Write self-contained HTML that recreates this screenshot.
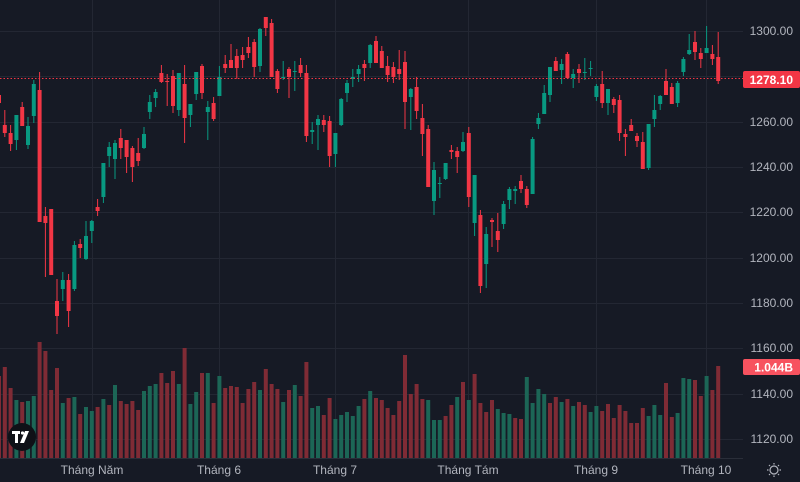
<!DOCTYPE html>
<html><head><meta charset="utf-8">
<style>
html,body{margin:0;padding:0;background:#161a25;}
svg{display:block;}
text{font-family:"Liberation Sans",sans-serif;}
</style></head>
<body>
<svg id="c" width="800" height="482" xmlns="http://www.w3.org/2000/svg">
<rect width="800" height="482" fill="#161a25"/>
<g id="grid" stroke="#232733" stroke-width="1"></g>
<g id="vol"></g>
<g id="cand"></g>
<line x1="0" y1="78.5" x2="743" y2="78.5" stroke="#f23645" stroke-width="1" stroke-dasharray="1.5,2"/>
<g id="ylab" font-size="12" fill="#b2b5be" text-anchor="end"></g>
<rect x="743" y="71" width="57" height="17" rx="2" fill="#f23645"/>
<text x="793" y="84" font-size="12" font-weight="bold" fill="#fff" text-anchor="end">1278.10</text>
<rect x="743" y="359" width="57" height="16" rx="2" fill="#f7525f"/>
<text x="793" y="371.5" font-size="12" font-weight="bold" fill="#fff" text-anchor="end">1.044B</text>
<line x1="0" y1="458.5" x2="743" y2="458.5" stroke="#2a2e39"/>
<g font-size="12" fill="#b2b5be" text-anchor="middle">
<text x="92" y="474">Tháng Năm</text>
<text x="219" y="474">Tháng 6</text>
<text x="335" y="474">Tháng 7</text>
<text x="468" y="474">Tháng Tám</text>
<text x="596" y="474">Tháng 9</text>
<text x="706" y="474">Tháng 10</text>
</g>
<g transform="translate(774,470)" stroke="#b2b5be" fill="none" stroke-width="1.2">
<circle r="4"/>
<path d="M0-7V-5.5M0 5.5V7M-7 0H-5.5M5.5 0H7M-5 -5L-4 -4M4 4L5 5M-5 5L-4 4M4 -4L5 -5"/>
</g>
<circle cx="22" cy="437" r="14" fill="#0f1117"/>
<g fill="#fff"><rect x="12" y="431" width="8" height="3"/><rect x="15" y="431" width="3" height="12"/><circle cx="22.5" cy="433" r="1.6"/><path d="M25 431h4l-5 12h-4z"/></g>
</svg>
<script>
var ns="http://www.w3.org/2000/svg";
function el(p,t,a){var e=document.createElementNS(ns,t);for(var k in a)e.setAttribute(k,a[k]);document.getElementById(p).appendChild(e);return e;}
[31,76,122,167,212,258,303,348,394,439].forEach(function(y){el("grid","line",{x1:0,x2:743,y1:y+.5,y2:y+.5});});
[92,219,335,468,596,706].forEach(function(x){el("grid","line",{x1:x+.5,x2:x+.5,y1:0,y2:458});});
var labs=[[1300,31],[1260,122],[1240,167],[1220,212],[1200,258],[1180,303],[1160,348],[1140,394],[1120,439]];
labs.forEach(function(l){var t=el("ylab","text",{x:793,y:l[1]+4});t.textContent=l[0].toFixed(2);});
var C=[
[95,103,92,106,"r"],[125,133,110,137,"r"],[133,144,125,151,"r"],[115,140,115,150,"g"],[107,126,102,126,"r"],
[126,145,117,149,"g"],[84,116,80,123,"g"],[90,222,72,222,"r"],[216,223,207,277,"r"],[209,275,209,275,"r"],
[301,316,279,334,"r"],[280,289,272,301,"g"],[280,311,274,327,"r"],[245,289,241,291,"g"],[244,248,239,258,"r"],
[236,259,221,260,"g"],[221,231,220,243,"g"],[207,211,199,216,"r"],[163,197,163,203,"g"],[147,156,142,167,"g"],
[143,159,140,179,"g"],[138,148,129,159,"r"],[140,157,140,173,"r"],[148,167,146,182,"r"],[153,161,138,166,"r"],
[134,148,127,149,"g"],[102,112,95,119,"g"],[92,98,89,107,"g"],[73,82,65,83,"r"],[81,82,74,106,"r"],
[76,106,70,113,"r"],[73,110,73,116,"g"],[84,118,65,143,"r"],[104,115,104,127,"g"],[72,94,72,100,"g"],
[66,93,64,99,"r"],[107,112,101,140,"g"],[103,119,97,121,"r"],[77,96,66,96,"g"],[64,68,55,73,"r"],
[60,68,44,68,"r"],[56,68,49,79,"r"],[55,60,47,68,"r"],[47,53,37,58,"r"],[42,67,39,77,"r"],
[29,66,28,72,"g"],[17,28,17,36,"r"],[23,77,19,77,"r"],[71,89,69,93,"r"],[77,78,61,80,"g"],
[69,77,67,98,"r"],[71,72,61,91,"g"],[65,73,58,77,"r"],[73,136,65,142,"r"],[130,132,122,144,"g"],
[119,125,115,150,"g"],[120,125,115,132,"r"],[121,156,116,167,"r"],[133,154,133,167,"g"],[99,125,98,126,"g"],
[83,93,80,102,"g"],[77,79,69,87,"g"],[69,74,65,82,"g"],[64,68,60,81,"r"],[45,63,44,68,"g"],
[41,63,36,63,"r"],[51,68,46,68,"r"],[66,75,56,82,"r"],[67,77,62,83,"r"],[69,74,50,80,"r"],
[62,102,51,129,"r"],[89,97,88,130,"g"],[87,111,77,119,"r"],[118,134,104,156,"r"],[129,187,125,187,"r"],
[170,201,162,215,"g"],[183,184,177,198,"g"],[163,179,163,180,"g"],[150,152,145,159,"r"],[151,157,147,173,"r"],
[142,151,132,152,"g"],[133,197,127,207,"r"],[175,223,175,236,"g"],[215,286,210,293,"r"],[234,264,227,288,"g"],
[220,222,218,247,"r"],[231,240,213,252,"r"],[204,224,201,229,"g"],[189,200,187,209,"g"],[189,191,186,204,"g"],
[181,189,175,193,"r"],[189,205,186,208,"r"],[139,194,137,194,"g"],[118,124,113,129,"g"],[93,114,85,114,"g"],
[67,95,67,102,"g"],[61,71,57,71,"r"],[64,70,59,84,"g"],[54,78,52,79,"r"],[74,78,69,88,"g"],
[69,73,64,83,"r"],[72,73,58,80,"g"],[68,69,61,76,"g"],[86,97,84,101,"g"],[84,103,71,108,"r"],
[89,103,89,115,"g"],[99,105,97,113,"r"],[100,133,95,141,"r"],[134,137,129,156,"r"],[125,131,119,131,"r"],
[136,141,133,147,"r"],[142,169,132,169,"r"],[124,168,124,170,"g"],[110,119,95,127,"g"],[96,104,95,110,"g"],
[81,95,69,95,"r"],[87,104,83,104,"r"],[83,103,81,107,"g"],[59,72,57,76,"g"],[50,54,34,55,"g"],
[42,52,31,60,"r"],[53,59,48,68,"r"],[48,53,26,53,"g"],[54,59,45,65,"r"],[57,81,32,84,"r"]];
var V=[[376,"r"],[367,"r"],[388,"r"],[400,"g"],[402,"r"],[401,"g"],[396,"g"],[342,"r"],[351,"r"],[390,"r"],
[368,"r"],[403,"g"],[398,"r"],[397,"g"],[414,"r"],[407,"g"],[411,"g"],[407,"r"],[399,"g"],[405,"r"],
[385,"g"],[401,"r"],[404,"r"],[401,"r"],[410,"r"],[391,"g"],[386,"g"],[384,"g"],[373,"r"],[383,"r"],
[371,"r"],[384,"g"],[348,"r"],[404,"g"],[392,"g"],[373,"r"],[373,"g"],[403,"r"],[376,"g"],[388,"r"],
[386,"r"],[387,"r"],[403,"r"],[389,"r"],[382,"r"],[390,"g"],[369,"r"],[384,"r"],[389,"r"],[402,"g"],
[390,"r"],[385,"g"],[396,"r"],[362,"r"],[408,"g"],[406,"g"],[415,"r"],[398,"r"],[419,"g"],[415,"g"],
[412,"g"],[416,"g"],[406,"g"],[399,"r"],[391,"g"],[398,"r"],[400,"r"],[408,"r"],[415,"r"],[401,"r"],
[355,"r"],[394,"r"],[384,"r"],[399,"r"],[400,"g"],[420,"g"],[420,"g"],[416,"r"],[405,"r"],[397,"g"],
[382,"r"],[400,"g"],[374,"r"],[403,"r"],[412,"r"],[400,"r"],[409,"g"],[413,"g"],[414,"g"],[418,"r"],
[419,"r"],[377,"g"],[403,"g"],[389,"g"],[394,"g"],[403,"r"],[397,"r"],[402,"g"],[399,"r"],[406,"g"],
[402,"r"],[405,"r"],[412,"g"],[406,"g"],[411,"r"],[404,"r"],[418,"r"],[405,"r"],[411,"r"],[423,"r"],
[423,"r"],[408,"r"],[416,"g"],[405,"g"],[415,"g"],[383,"r"],[417,"r"],[413,"g"],[378,"g"],[379,"g"],
[380,"r"],[396,"r"],[376,"g"],[390,"r"],[366,"r"]];
V.forEach(function(v,i){var x=5.8*i-1;el("vol","rect",{x:x-2,y:v[0],width:4,height:458-v[0],fill:v[1]=="r"?"#7f2b35":"#1c6656"});});
C.forEach(function(c,i){var x=5.8*i-1;var col=c[4]=="r"?"#f23645":"#089981";
el("cand","line",{x1:x,x2:x,y1:c[2],y2:c[3],stroke:col,"stroke-width":1});
el("cand","rect",{x:x-2,y:c[0],width:4,height:Math.max(1,c[1]-c[0]),fill:col});});
</script>
</body></html>
